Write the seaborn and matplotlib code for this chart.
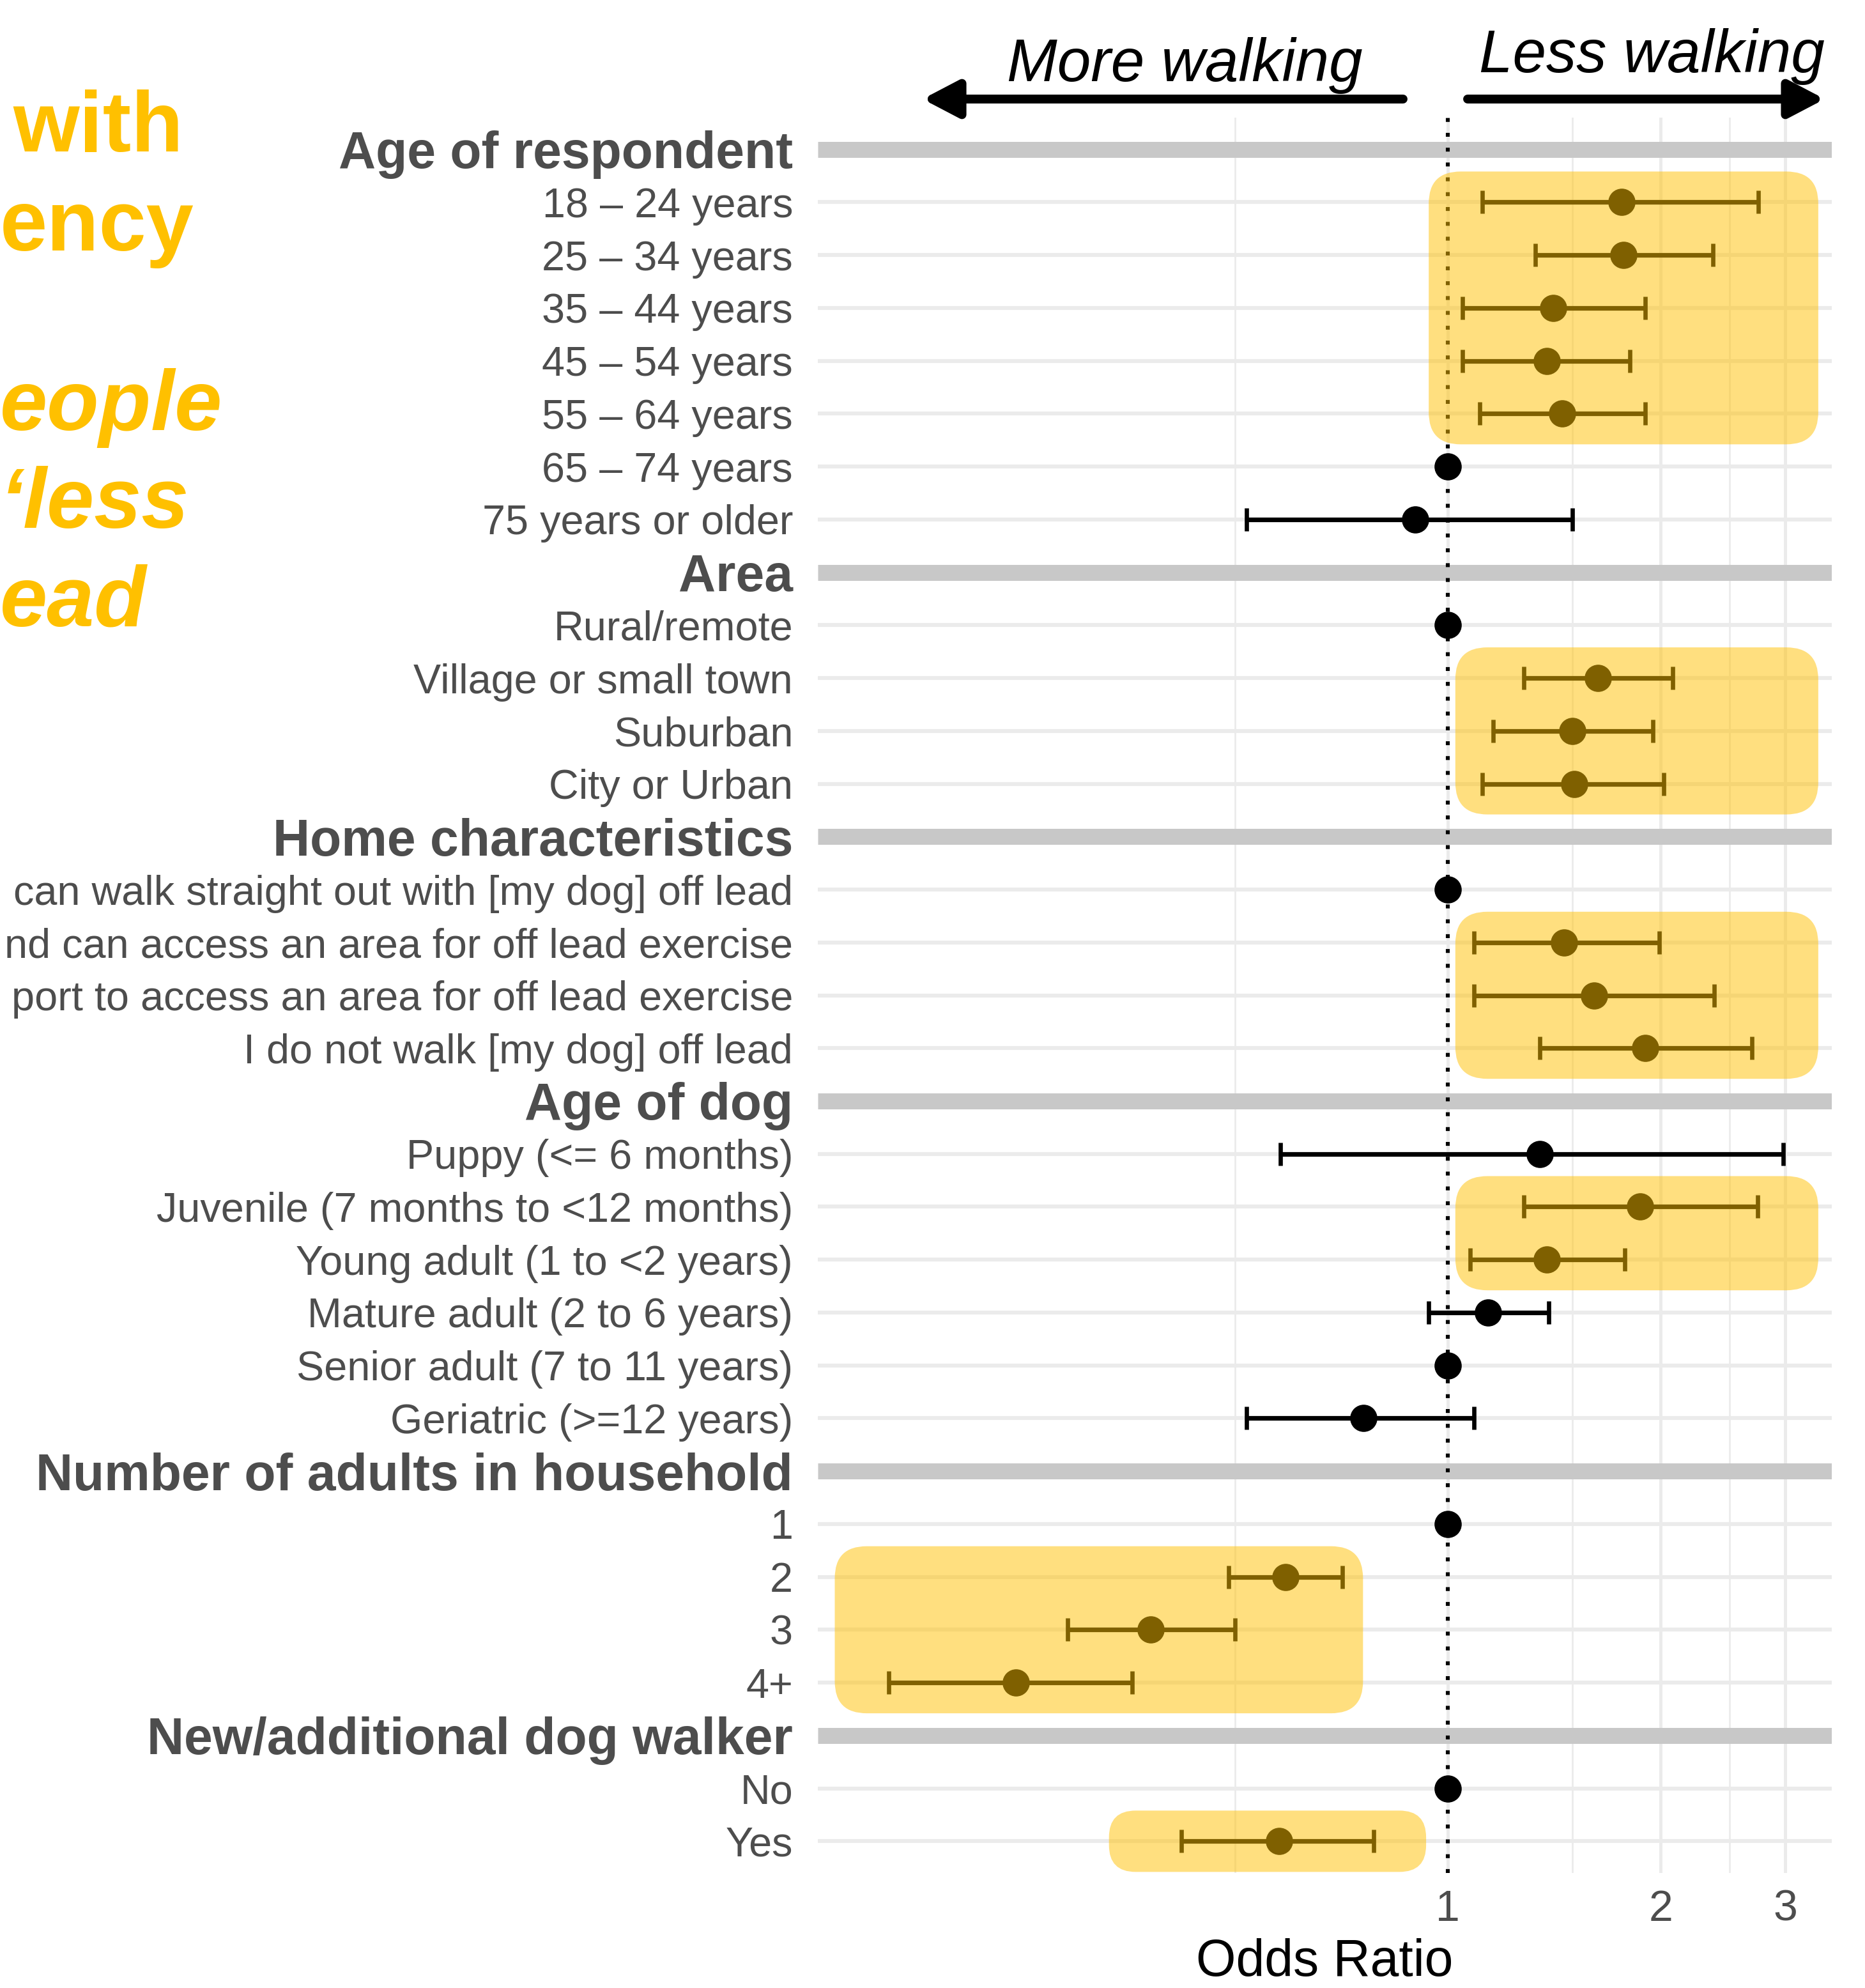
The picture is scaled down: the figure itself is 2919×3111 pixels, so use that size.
import numpy as np
import pandas as pd
import matplotlib
matplotlib.use("Agg")
import matplotlib.pyplot as plt
import seaborn as sns
from matplotlib.patches import FancyBboxPatch, FancyArrowPatch
from matplotlib.transforms import IdentityTransform
from matplotlib.ticker import NullLocator, FixedLocator

nan = np.nan

# ---------------- data ----------------
sections = ["Age of respondent", "Area", "Home characteristics", "Age of dog",
            "Number of adults in household", "New/additional dog walker"]

age_resp_labels = ["18 – 24 years", "25 – 34 years", "35 – 44 years", "45 – 54 years",
                   "55 – 64 years", "65 – 74 years", "75 years or older"]
age_resp_or = [1.76, 1.77, 1.41, 1.38, 1.45, 1.00, 0.90]
age_resp_lo = [1.12, 1.33, 1.05, 1.05, 1.11, nan, 0.52]
age_resp_hi = [2.75, 2.37, 1.90, 1.81, 1.90, nan, 1.50]

area_labels = ["Rural/remote", "Village or small town", "Suburban", "City or Urban"]
area_or = [1.00, 1.63, 1.50, 1.51]
area_lo = [nan, 1.28, 1.16, 1.12]
area_hi = [nan, 2.08, 1.95, 2.02]

home_labels = ["can walk straight out with [my dog] off lead",
               "nd can access an area for off lead exercise",
               "port to access an area for off lead exercise",
               "I do not walk [my dog] off lead"]
home_or = [1.00, 1.46, 1.61, 1.90]
home_lo = [nan, 1.09, 1.09, 1.35]
home_hi = [nan, 1.99, 2.38, 2.69]

dog_labels = ["Puppy (<= 6 months)", "Juvenile (7 months to <12 months)",
              "Young adult (1 to <2 years)", "Mature adult (2 to 6 years)",
              "Senior adult (7 to 11 years)", "Geriatric (>=12 years)"]
dog_or = [1.35, 1.87, 1.38, 1.14, 1.00, 0.76]
dog_lo = [0.58, 1.28, 1.075, 0.94, nan, 0.52]
dog_hi = [2.98, 2.74, 1.78, 1.39, nan, 1.09]

adults_labels = ["1", "2", "3", "4+"]
adults_or = [1.00, 0.59, 0.38, 0.245]
adults_lo = [nan, 0.49, 0.29, 0.162]
adults_hi = [nan, 0.71, 0.50, 0.358]

walker_labels = ["No", "Yes"]
walker_or = [1.00, 0.578]
walker_lo = [nan, 0.42]
walker_hi = [nan, 0.785]

# highlighted groups: first label, last label, x-range (odds ratio)
hl_first = ["18 – 24 years", "Village or small town",
            "nd can access an area for off lead exercise",
            "Juvenile (7 months to <12 months)", "2", "Yes"]
hl_last = ["55 – 64 years", "City or Urban", "I do not walk [my dog] off lead",
           "Young adult (1 to <2 years)", "4+", "Yes"]
hl_xlo = [0.94, 1.025, 1.025, 1.025, 0.136, 0.332]
hl_xhi = [3.34, 3.34, 3.34, 3.34, 0.759, 0.932]

x_breaks = [1, 2, 3]
x_minor = [0.5, 1.5, 2.5]

# ---------------- assemble ----------------
blocks = [
    (age_resp_labels, age_resp_or, age_resp_lo, age_resp_hi),
    (area_labels, area_or, area_lo, area_hi),
    (home_labels, home_or, home_lo, home_hi),
    (dog_labels, dog_or, dog_lo, dog_hi),
    (adults_labels, adults_or, adults_lo, adults_hi),
    (walker_labels, walker_or, walker_lo, walker_hi),
]
recs = []
for sec, (labs, ors, los, his) in zip(sections, blocks):
    recs.append(dict(label=sec, header=True, OR=nan, lo=nan, hi=nan))
    for l, o, a, b in zip(labs, ors, los, his):
        recs.append(dict(label=l, header=False, OR=o, lo=a, hi=b))
df = pd.DataFrame(recs)
df["row"] = np.arange(len(df))
row_of = {l: r for l, r in zip(df["label"], df["row"])}

# ---------------- figure ----------------
W, H, DPI = 2919, 3111, 200
sns.set_theme(style="white")
plt.rcParams["font.family"] = ["Liberation Sans", "DejaVu Sans"]

fig = plt.figure(figsize=(W / DPI, H / DPI), dpi=DPI)
fig.patch.set_facecolor("white")
L, R, T, B = 1280, 2867, 184, 2931
ax = fig.add_axes([L / W, 1 - B / H, (R - L) / W, (B - T) / H])
ax.set_facecolor("white")
for s in ax.spines.values():
    s.set_visible(False)

ax.set_xscale("log")
xlim = (0.1287, 3.49)
ylim = (len(df) - 1 + 0.6, -0.6)
ax.set_xlim(*xlim)
ax.set_ylim(*ylim)
ax.autoscale(False)

grid_c = "#EBEBEB"
# vertical gridlines
for v in x_minor:
    ax.axvline(v, color=grid_c, lw=1.0, zorder=0.5)
for v in x_breaks:
    ax.axvline(v, color=grid_c, lw=1.8, zorder=0.5)
# horizontal row lines and header bands
rows_item = df.loc[~df["header"], "row"].values
rows_head = df.loc[df["header"], "row"].values
ax.hlines(rows_item, xlim[0], xlim[1], color=grid_c, lw=2.2, zorder=0.6)
ax.hlines(rows_head, xlim[0], xlim[1], color="#C8C8C8", lw=9.0, zorder=0.7)

# reference line
ax.axvline(1, color="black", lw=2.2, ls=(0, (1, 2.8)), zorder=1)

# error bars
ci = df.dropna(subset=["lo", "hi"])
ax.errorbar(ci["OR"], ci["row"],
            xerr=[ci["OR"] - ci["lo"], ci["hi"] - ci["OR"]],
            fmt="none", ecolor="black", elinewidth=2.6, capsize=6.5,
            capthick=2.4, zorder=2)

# points
pts = df.dropna(subset=["OR"])
sns.scatterplot(data=pts, x="OR", y="row", color="black", s=235,
                linewidth=0, ax=ax, zorder=3, legend=False)
ax.set_xlim(*xlim)
ax.set_ylim(*ylim)

# highlight boxes (drawn in pixel space so corners stay round on a log axis)
for f, l, xa, xb in zip(hl_first, hl_last, hl_xlo, hl_xhi):
    y0, y1 = row_of[f] - 0.58, row_of[l] + 0.58
    (px0, py0) = ax.transData.transform((xa, y1))
    (px1, py1) = ax.transData.transform((xb, y0))
    w, h = px1 - px0, py1 - py0
    r = min(50, h / 2.3)
    box = FancyBboxPatch((px0, py0), w, h,
                         boxstyle=f"round,pad=0,rounding_size={r}",
                         transform=IdentityTransform(), facecolor="#FFC000",
                         edgecolor="none", alpha=0.5, zorder=5)
    ax.add_patch(box)
    box.set_clip_path(ax.patch)

# axes text
ax.set_yticks(df["row"].values)
ax.set_yticklabels(df["label"].values)
ax.yaxis.set_minor_locator(NullLocator())
for tl, hd in zip(ax.get_yticklabels(), df["header"].values):
    tl.set_color("#4D4D4D")
    if hd:
        tl.set_fontsize(29)
        tl.set_fontweight("bold")
    else:
        tl.set_fontsize(23.3)
ax.tick_params(axis="y", length=0, pad=14)

ax.xaxis.set_major_locator(FixedLocator(x_breaks))
ax.xaxis.set_minor_locator(NullLocator())
ax.set_xticklabels([str(b) for b in x_breaks])
ax.tick_params(axis="x", length=0, pad=9, labelsize=24.5, labelcolor="#4D4D4D")
ax.set_xlabel("")
ax.set_ylabel("")
ax.grid(False)
fig.text((L + R) / 2 / W, 1 - 3092 / H, "Odds Ratio", ha="center", va="baseline",
         fontsize=29, color="black")

# direction annotations
fig.text(2133 / W, 1 - 127 / H, "More walking", ha="right", va="baseline",
         fontsize=34, style="italic", color="black")
fig.text(2315 / W, 1 - 113 / H, "Less walking", ha="left", va="baseline",
         fontsize=34, style="italic", color="black")
ya = H - 155
for xa, xb in [(2196, 1444), (2297, 2856)]:
    arr = FancyArrowPatch((xa, ya), (xb, ya), transform=IdentityTransform(),
                          arrowstyle="-|>,head_length=0.42,head_width=0.22",
                          mutation_scale=40, lw=5, color="black",
                          shrinkA=0, shrinkB=0)
    fig.add_artist(arr)

# slide text fragments on the left (visible parts of the cropped slide)
gold = "#FFC000"
frag = [("with", 20, 237, "normal"), ("ency", 0, 392, "normal"),
        ("eople", 0, 673, "italic"), ("‘less", 0, 826, "italic"),
        ("ead", 0, 979, "italic")]
for s, xl, yb, st in frag:
    fig.text(xl / W, 1 - yb / H, s, ha="left", va="baseline", fontsize=48,
             fontweight="bold", style=st, color=gold)

fig.savefig("out.png", dpi=DPI, facecolor="white")
